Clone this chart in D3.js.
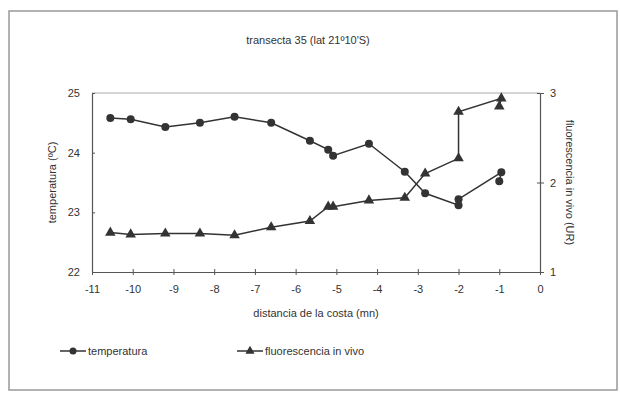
<!DOCTYPE html>
<html>
<head>
<meta charset="utf-8">
<script src="https://cdn.jsdelivr.net/npm/d3@7"></script>
<style>
  body { margin: 0; background: #fff; }
  text { font-family: "Liberation Sans", Arial, sans-serif; fill: #333; }
</style>
</head>
<body>
<div id="chart"></div>
<script>
// distancia de la costa (mn), same stations for both series
var distancia = [-10.55, -10.05, -9.2, -8.35, -7.5, -6.6, -5.65, -5.2, -5.08, -4.2, -3.32, -2.82, -2.0, -2.0, -0.95, -1.0];
var temperatura = [24.58, 24.56, 24.43, 24.5, 24.6, 24.5, 24.2, 24.05, 23.95, 24.15, 23.68, 23.32, 23.12, 23.22, 23.67, 23.52];
var fluorescencia = [1.44, 1.42, 1.43, 1.43, 1.41, 1.5, 1.57, 1.73, 1.73, 1.8, 1.83, 2.1, 2.27, 2.79, 2.94, 2.85];

var xTicks = [-11, -10, -9, -8, -7, -6, -5, -4, -3, -2, -1, 0];
var tempTicks = [22, 23, 24, 25];
var fluoTicks = [1, 2, 3];

var width = 620,
	height = 393,
	plotLeft = 92, plotRight = 540,
	plotTop = 93, plotBottom = 272,
	ink = "#333";

var svg = d3.select("#chart").append("svg")
	.attr("width", width)
	.attr("height", height);

// outer frame
svg.append("rect")
	.attr("x", 9).attr("y", 11)
	.attr("width", 608).attr("height", 379)
	.attr("fill", "none")
	.attr("stroke", "#999")
	.attr("stroke-width", 1.5);

var x = d3.scaleLinear().domain([-11, 0]).range([plotLeft, plotRight]);
var yT = d3.scaleLinear().domain([22, 25]).range([plotBottom, plotTop]);
var yF = d3.scaleLinear().domain([1, 3]).range([plotBottom, plotTop]);

// top border of plot area
svg.append("line")
	.attr("x1", plotLeft).attr("x2", plotRight)
	.attr("y1", plotTop).attr("y2", plotTop)
	.attr("stroke", "#aaa");

var plain = function(d){ return String(d); };

function styleAxis(g) {
	g.select(".domain").attr("stroke", "#555").attr("stroke-width", 1.2);
	g.selectAll(".tick line").attr("stroke", "#555");
	g.selectAll(".tick text")
		.style("font-family", "'Liberation Sans', Arial, sans-serif")
		.style("font-size", "11px")
		.attr("fill", ink);
}

var xAxis = svg.append("g")
	.attr("transform", "translate(0," + plotBottom + ")")
	.call(d3.axisBottom(x).tickValues(xTicks).tickFormat(plain).tickSizeInner(3).tickSizeOuter(0).tickPadding(10))
	.call(styleAxis);
xAxis.selectAll(".tick line").attr("y1", -3);

var lAxis = svg.append("g")
	.attr("transform", "translate(" + plotLeft + ",0)")
	.call(d3.axisLeft(yT).tickValues(tempTicks).tickFormat(plain).tickSizeInner(4).tickSizeOuter(0).tickPadding(8))
	.call(styleAxis);
lAxis.selectAll(".tick line").attr("x2", 3);

var rAxis = svg.append("g")
	.attr("transform", "translate(" + plotRight + ",0)")
	.call(d3.axisRight(yF).tickValues(fluoTicks).tickFormat(plain).tickSizeInner(4).tickSizeOuter(0).tickPadding(6))
	.call(styleAxis);
rAxis.selectAll(".tick line").attr("x1", -3);

// titles
svg.append("text")
	.attr("x", 308).attr("y", 44)
	.attr("text-anchor", "middle")
	.style("font-size", "11px")
	.text("transecta 35 (lat 21º10'S)");

svg.append("text")
	.attr("x", 316).attr("y", 317)
	.attr("text-anchor", "middle")
	.style("font-size", "11px")
	.text("distancia de la costa (mn)");

svg.append("text")
	.attr("transform", "translate(56," + ((plotTop + plotBottom) / 2) + ") rotate(-90)")
	.attr("text-anchor", "middle")
	.style("font-size", "11px")
	.text("temperatura (ºC)");

svg.append("text")
	.attr("transform", "translate(566," + ((plotTop + plotBottom) / 2) + ") rotate(90)")
	.attr("text-anchor", "middle")
	.style("font-size", "11px")
	.text("fluorescencia in vivo (UR)");

// series
var tData = distancia.map(function(d, i){ return [d, temperatura[i]]; });
var fData = distancia.map(function(d, i){ return [d, fluorescencia[i]]; });

var tri = d3.symbol().type(d3.symbolTriangle).size(48);

svg.append("path")
	.datum(tData)
	.attr("fill", "none")
	.attr("stroke", ink)
	.attr("stroke-width", 1.5)
	.attr("d", d3.line().x(function(d){ return x(d[0]); }).y(function(d){ return yT(d[1]); }));

svg.append("path")
	.datum(fData)
	.attr("fill", "none")
	.attr("stroke", ink)
	.attr("stroke-width", 1.5)
	.attr("d", d3.line().x(function(d){ return x(d[0]); }).y(function(d){ return yF(d[1]); }));

svg.selectAll(".temp")
	.data(tData)
	.enter().append("circle")
	.attr("class", "temp")
	.attr("cx", function(d){ return x(d[0]); })
	.attr("cy", function(d){ return yT(d[1]); })
	.attr("r", 4)
	.attr("fill", "#333");

svg.selectAll(".fluo")
	.data(fData)
	.enter().append("path")
	.attr("class", "fluo")
	.attr("d", tri)
	.attr("transform", function(d){ return "translate(" + x(d[0]) + "," + yF(d[1]) + ")"; })
	.attr("fill", "#333");

// legend
var legend = svg.append("g").attr("transform", "translate(0,351)");
legend.append("line").attr("x1", 60).attr("x2", 86).attr("stroke", ink).attr("stroke-width", 1.5);
legend.append("circle").attr("cx", 73).attr("r", 3.5).attr("fill", "#333");
legend.append("text").attr("x", 88).attr("y", 4).style("font-size", "11px").text("temperatura");

legend.append("line").attr("x1", 237).attr("x2", 263).attr("stroke", ink).attr("stroke-width", 1.5);
legend.append("path").attr("d", d3.symbol().type(d3.symbolTriangle).size(36))
	.attr("transform", "translate(250,0)").attr("fill", "#333");
legend.append("text").attr("x", 265).attr("y", 4).style("font-size", "11px").text("fluorescencia in vivo");
</script>
</body>
</html>
